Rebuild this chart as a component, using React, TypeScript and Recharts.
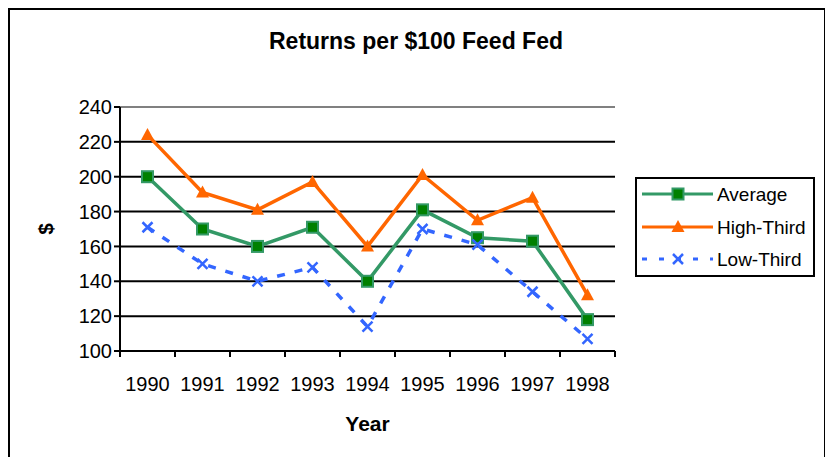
import React from "react";
import {
  CartesianGrid,
  Line,
  LineChart,
  ReferenceLine,
  XAxis,
  YAxis,
} from "recharts";

const years = ["1990", "1991", "1992", "1993", "1994", "1995", "1996", "1997", "1998"];
const average = [200, 170, 160, 171, 140, 181, 165, 163, 118];
const highThird = [224, 191, 181, 197, 160, 201, 175, 188, 132];
const lowThird = [171, 150, 140, 148, 114, 170, 161, 134, 107];
const yTicks = [100, 120, 140, 160, 180, 200, 220, 240];

const data = years.map((year, i) => ({
  year,
  average: average[i],
  high: highThird[i],
  low: lowThird[i],
}));

const FONT = '"Liberation Sans", Arial, sans-serif';
const W = 814;
const H = 448;
const M = { top: 97, right: 209, left: 0, bottom: 47 };
const HALF_BAND = (W - M.left - M.right - 110) / 9 / 2;

const GREEN = "#339966";
const ORANGE = "#FF6600";
const BLUE = "#3366FF";

function Square({ cx, cy }: { cx: number; cy: number }) {
  return <rect x={cx - 5.5} y={cy - 5.5} width={11} height={11} fill="#008000" stroke={GREEN} strokeWidth={2} />;
}

function Triangle({ cx, cy }: { cx: number; cy: number }) {
  return <polygon points={`${cx},${cy - 7} ${cx - 6.5},${cy + 5} ${cx + 6.5},${cy + 5}`} fill={ORANGE} />;
}

function Cross({ cx, cy }: { cx: number; cy: number }) {
  return (
    <path
      d={`M${cx - 5},${cy - 5}L${cx + 5},${cy + 5}M${cx - 5},${cy + 5}L${cx + 5},${cy - 5}`}
      stroke={BLUE}
      strokeWidth={2.5}
      fill="none"
    />
  );
}

const series = [
  { key: "average", name: "Average", color: GREEN, dash: undefined, Marker: Square },
  { key: "high", name: "High-Third", color: ORANGE, dash: undefined, Marker: Triangle },
  { key: "low", name: "Low-Third", color: BLUE, dash: "8 10", Marker: Cross },
];

function YearTick(props: any) {
  const { x, y, payload, index } = props;
  const last = index === years.length - 1;
  return (
    <g>
      <line x1={x - HALF_BAND} x2={x - HALF_BAND} y1={y} y2={y + 6} stroke="#000" strokeWidth={2} />
      {last && <line x1={x + HALF_BAND} x2={x + HALF_BAND} y1={y} y2={y + 6} stroke="#000" strokeWidth={2} />}
      <text x={x} y={y + 40} textAnchor="middle" fontSize={20} fill="#000" fontFamily={FONT}>
        {payload.value}
      </text>
    </g>
  );
}

function Legend() {
  return (
    <div
      style={{
        position: "absolute",
        left: 625,
        top: 167,
        width: 176,
        height: 96,
        border: "2px solid #000",
        background: "#fff",
        fontFamily: FONT,
        fontSize: 19,
      }}
    >
      {series.map((s, i) => (
        <div key={s.key} style={{ position: "absolute", left: 0, top: 15 + i * 32.5 - 16, height: 32, width: 176 }}>
          <svg width={78} height={32} style={{ position: "absolute", left: 0, top: 0 }}>
            <line x1={5} x2={76} y1={16} y2={16} stroke={s.color} strokeWidth={3} strokeDasharray={s.dash ? "5 12" : undefined} />
            <s.Marker cx={41} cy={16} />
          </svg>
          <span style={{ position: "absolute", left: 80, top: 16, transform: "translateY(-50%)", lineHeight: 1, whiteSpace: "nowrap" }}>
            {s.name}
          </span>
        </div>
      ))}
    </div>
  );
}

export default function App() {
  return (
    <div
      style={{
        position: "relative",
        width: W,
        height: H,
        border: "2px solid #000",
        background: "#fff",
        fontFamily: FONT,
      }}
    >
      <div
        style={{
          position: "absolute",
          left: 0,
          width: W,
          textAlign: "center",
          top: 18,
          fontSize: 23,
          fontWeight: "bold",
        }}
      >
        <span style={{ position: "relative", left: -1 }}>Returns per $100 Feed Fed</span>
      </div>
      <LineChart width={W} height={H} data={data} margin={M}>
        <CartesianGrid vertical={false} stroke="#000" strokeWidth={2} horizontalValues={yTicks.slice(0, -1)} />
        <XAxis
          dataKey="year"
          padding={{ left: HALF_BAND, right: HALF_BAND }}
          height={60}
          tickSize={0}
          tickMargin={0}
          tickLine={false}
          axisLine={{ stroke: "#000", strokeWidth: 2 }}
          tick={<YearTick />}
          interval={0}
          label={{
            content: (p: any) => (
              <text
                x={p.viewBox.x + p.viewBox.width / 2}
                y={p.viewBox.y + 80}
                textAnchor="middle"
                fontSize={21}
                fontWeight="bold"
                fontFamily={FONT}
                fill="#000"
              >
                Year
              </text>
            ),
          }}
        />
        <YAxis
          domain={[100, 240]}
          ticks={yTicks}
          width={110}
          tickSize={6}
          tickMargin={2}
          tick={{ fill: "#000", fontSize: 20, fontFamily: FONT }}
          tickLine={{ stroke: "#000", strokeWidth: 2 }}
          axisLine={{ stroke: "#000", strokeWidth: 2 }}
          interval={0}
          label={{
            content: (p: any) => {
              const x = p.viewBox.x + 35;
              const y = p.viewBox.y + p.viewBox.height / 2;
              return (
                <text
                  x={x}
                  y={y}
                  transform={`rotate(-90 ${x} ${y})`}
                  textAnchor="middle"
                  dominantBaseline="central"
                  fontSize={21}
                  fontWeight="bold"
                  fontFamily={FONT}
                  fill="#000"
                >
                  $
                </text>
              );
            },
          }}
        />
        <YAxis
          yAxisId="right"
          orientation="right"
          domain={[100, 240]}
          width={0}
          tick={false}
          tickLine={false}
          axisLine={{ stroke: "#808080", strokeWidth: 2 }}
        />
        <ReferenceLine y={240} stroke="#808080" strokeWidth={2} />
        {series.map((s) => (
          <Line
            key={s.key}
            dataKey={s.key}
            name={s.name}
            stroke={s.color}
            strokeWidth={3.5}
            strokeDasharray={s.dash}
            isAnimationActive={false}
            dot={(p: any) => <s.Marker key={`${s.key}-${p.index}`} cx={p.cx} cy={p.cy} />}
            activeDot={false}
          />
        ))}
      </LineChart>
      <Legend />
    </div>
  );
}
